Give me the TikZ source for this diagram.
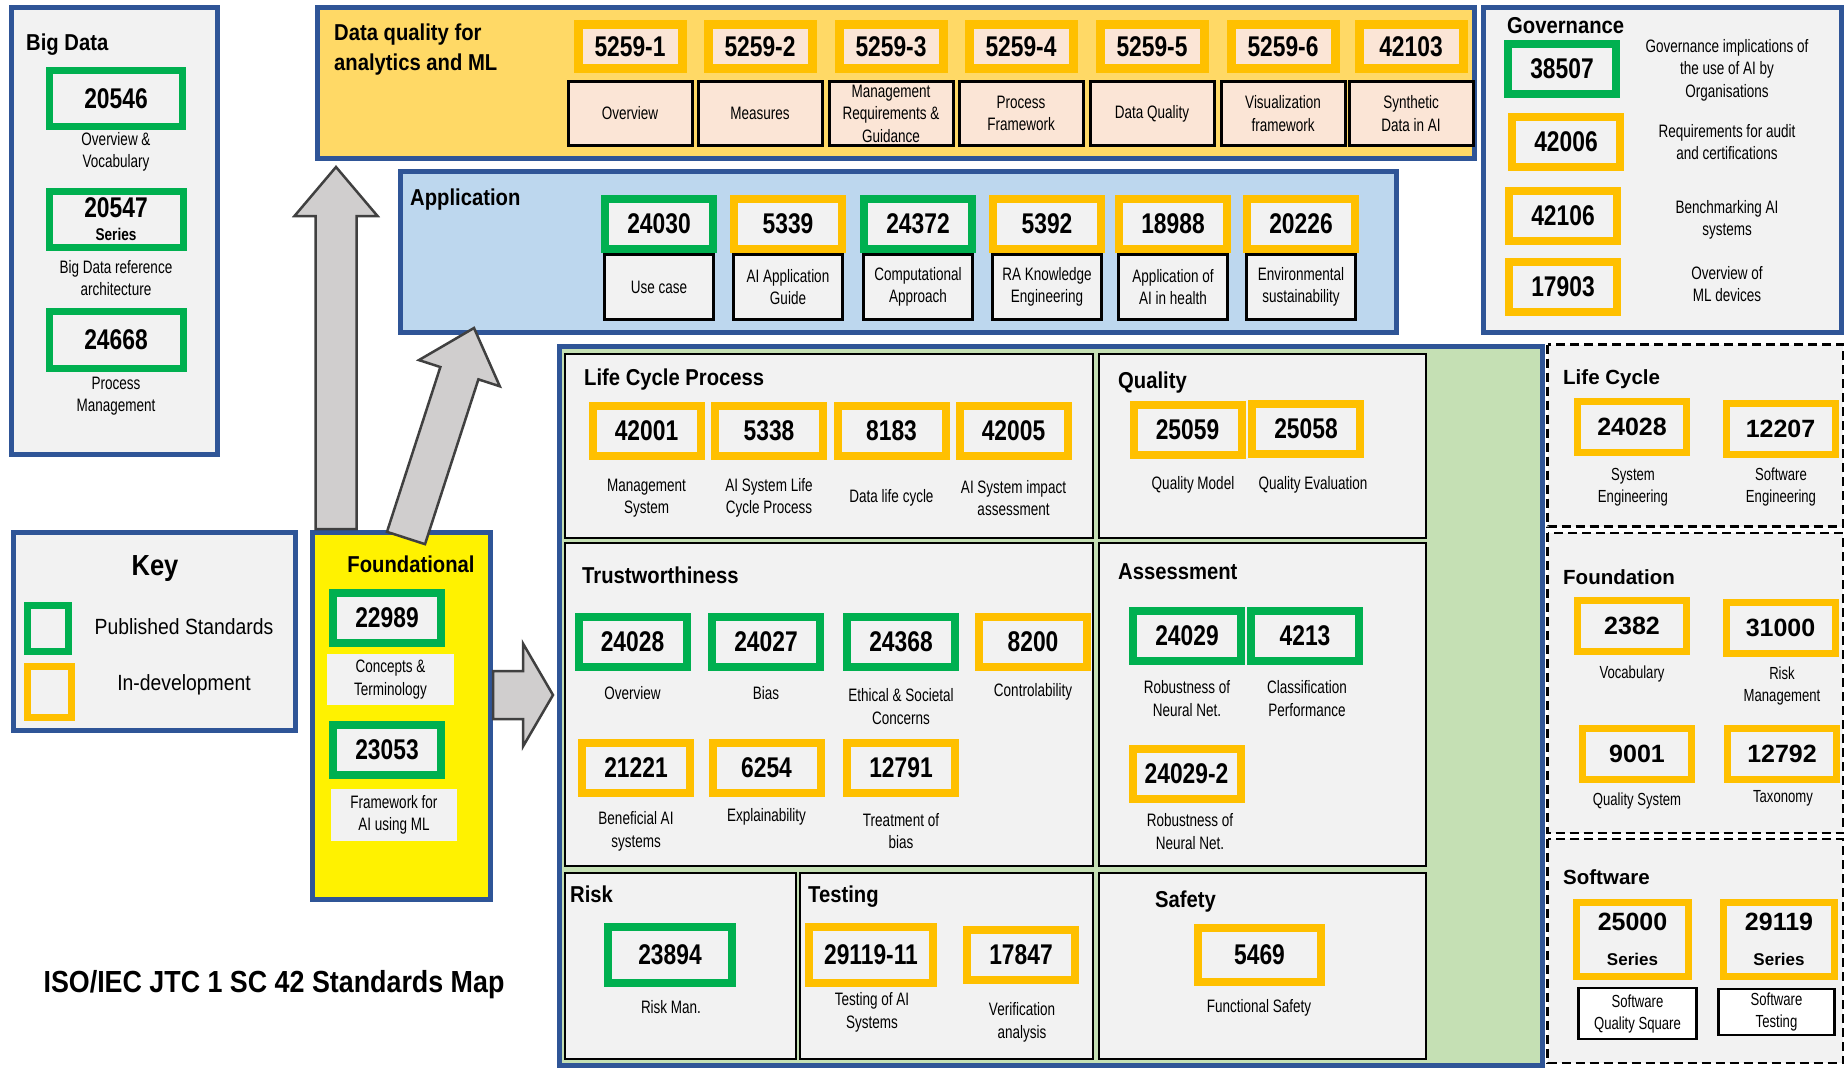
\documentclass[tikz,border=0pt]{standalone}
\usepackage{fontspec}
\setmainfont{Liberation Sans}
\newfontfamily\narrowfont[FakeStretch=0.8]{Liberation Sans}
\newfontfamily\thinfont[FakeStretch=0.75]{Liberation Sans}
\newfontfamily\titlefont[FakeStretch=0.88]{Liberation Sans}
\usetikzlibrary{calc}
\definecolor{frameblue}{RGB}{47,85,151}
\definecolor{pubgreen}{RGB}{0,176,80}
\definecolor{devorange}{RGB}{255,192,0}
\definecolor{dqfill}{RGB}{255,217,102}
\definecolor{peach}{RGB}{251,229,214}
\definecolor{appfill}{RGB}{189,215,238}
\definecolor{maingreen}{RGB}{197,224,180}
\definecolor{panegray}{RGB}{242,242,242}
\definecolor{arrowfill}{RGB}{208,206,206}
\definecolor{arrowedge}{RGB}{64,64,64}
\newcommand{\numfont}{\narrowfont\bfseries\fontsize{28.5}{23}\selectfont}
\newcommand{\sersize}{\narrowfont\bfseries\fontsize{17}{23}\selectfont}
\newcommand{\lblfont}{\thinfont\fontsize{18}{22.5}\selectfont}
\newcommand{\hdfont}{\titlefont\bfseries\fontsize{23}{30}\selectfont}
\newcommand{\keyfont}{\titlefont\fontsize{22}{26}\selectfont}
\newcommand{\rnumfont}{\bfseries\fontsize{25}{35}\selectfont}
\newcommand{\rsersize}{\bfseries\fontsize{17}{35}\selectfont}
\newcommand{\rhdfont}{\bfseries\fontsize{20.5}{24}\selectfont}
\newcommand{\rlblfont}{\thinfont\fontsize{17.5}{22}\selectfont}
% block arrow: tail, tip, half shaft, half head, head length
\newcommand{\blockarrow}[5]{%
  \coordinate (#1-base) at ($(#2)!#5!(#1)$);
  \draw[arrowbody] ($(#1)!#3!90:(#2)$) -- ($(#1-base)!#3!-90:(#1)$)
    -- ($(#1-base)!#4!-90:(#1)$) -- (#2) -- ($(#1-base)!#4!90:(#1)$)
    -- ($(#1-base)!#3!90:(#1)$) -- ($(#1)!#3!-90:(#2)$) -- cycle;}

\begin{document}
\begin{tikzpicture}[x=1pt, y=-1pt,
    bluebox/.style={draw=frameblue, line width=5pt},
    pane/.style={draw=black, line width=2.5pt, fill=panegray},
    dashpane/.style={draw=black, line width=2.5pt, dash pattern=on 9pt off 5pt, fill=panegray},
    stdbox/.style={line width=8pt, inner sep=0pt, font=\numfont, fill=panegray,
      minimum width=108pt, minimum height=50pt},
    pub/.style={stdbox, draw=pubgreen},
    dev/.style={stdbox, draw=devorange},
    rbox/.style={dev, line width=7pt, font=\rnumfont, minimum width=109pt, minimum height=51pt},
    subbox/.style={draw=black, line width=3pt, inner sep=0pt, align=center, font=\lblfont},
    lbl/.style={font=\lblfont, align=center, inner sep=0pt},
    rlbl/.style={lbl, font=\rlblfont},
    hd/.style={font=\hdfont, anchor=base west, inner sep=0pt},
    rhd/.style={font=\rhdfont, anchor=base west, inner sep=0pt},
    arrowbody/.style={draw=arrowedge, fill=arrowfill, line width=2.5pt, line join=miter}]
  \useasboundingbox (0,0) rectangle (1845,1068);

  % Big Data
  \draw[bluebox, fill=panegray] (11.5,7.5) rectangle (217.5,454.5);
  \node[hd] (bdTitle) at (26,50) {Big Data};
  \node[pub, line width=7pt, minimum width=133pt, minimum height=56pt] (bd1) at (116,98.5) {20546};
  \node[lbl] (bd1L) at (116,152) {Overview \&\\Vocabulary};
  \node[pub, line width=7pt, minimum width=134pt, minimum height=56pt, align=center] (bd2) at (116,219.5) {20547\\\sersize Series};
  \node[lbl] (bd2L) at (116,278) {Big Data reference\\architecture};
  \node[pub, line width=7pt, minimum width=134pt, minimum height=57pt] (bd3) at (116,340) {24668};
  \node[lbl] (bd3L) at (116,396) {Process\\Management};

  % Data quality
  \draw[bluebox, fill=dqfill] (317.5,7.5) rectangle (1474.5,158.5);
  \node[hd, anchor=west, align=left] (dqTitle) at (334,50) {Data quality for\\analytics and ML};
  \foreach \x/\num/\txt [count=\i] in {630/5259-1/Overview, 760/5259-2/Measures,
      891/5259-3/{Management\\Requirements \&\\Guidance}, 1021/5259-4/{Process\\Framework},
      1152/5259-5/Data Quality, 1283/5259-6/{Visualization\\framework}, 1411/42103/{Synthetic\\Data in AI}} {
    \node[dev, fill=peach, line width=9pt, minimum width=104pt, minimum height=44pt] (dq\i) at (\x,46.5) {\num};
    \node[subbox, fill=peach, minimum width=124pt, minimum height=64pt] (dqL\i) at (\x,113.5) {\txt};
  }

  % Application
  \draw[bluebox, fill=appfill] (400.5,171.5) rectangle (1396.5,332.5);
  \node[hd] (appTitle) at (410,205) {Application};
  \foreach \x/\num/\col/\txt [count=\i] in {659/24030/pubgreen/Use case,
      788/5339/devorange/{AI Application\\Guide}, 918/24372/pubgreen/{Computational\\Approach},
      1047/5392/devorange/{RA Knowledge\\Engineering}, 1173/18988/devorange/{Application of\\AI in health},
      1301/20226/devorange/{Environmental\\sustainability}} {
    \node[stdbox, draw=\col] (app\i) at (\x,224) {\num};
    \node[subbox, fill=panegray, minimum width=109pt, minimum height=65pt] (appL\i) at (\x,287) {\txt};
  }

  % Governance
  \draw[bluebox, fill=panegray] (1483.5,7.5) rectangle (1841.5,332.5);
  \node[hd] (govTitle) at (1507,33) {Governance};
  \foreach \x/\y/\num/\col/\txt/\ly [count=\i] in {
      1562/69/38507/pubgreen/{Governance implications of\\the use of AI by\\Organisations}/70,
      1566/142/42006/devorange/{Requirements for audit\\and certifications}/142,
      1563/216/42106/devorange/{Benchmarking AI\\systems}/220,
      1563/287/17903/devorange/{Overview of\\ML devices}/284} {
    \node[stdbox, draw=\col] (gov\i) at (\x,\y) {\num};
    \node[lbl] (govL\i) at (1727,\ly) {\txt};
  }

  % Key
  \draw[bluebox, fill=panegray] (13.5,532.5) rectangle (295.5,730.5);
  \node[hd, font=\titlefont\bfseries\fontsize{29}{30}\selectfont, anchor=base] (keyTitle) at (155,575) {Key};
  \node[pub, line width=7pt, minimum width=41pt, minimum height=46pt] (keyPub) at (48,628.5) {};
  \node[dev, line width=7pt, minimum width=44pt, minimum height=51pt] (keyDev) at (49.5,692) {};
  \node[font=\keyfont, inner sep=0pt] (keyPubL) at (184,627) {Published Standards};
  \node[font=\keyfont, inner sep=0pt] (keyDevL) at (184,685) {In-development};

  % Foundational
  \draw[bluebox, fill=yellow] (312.5,532.5) rectangle (490.5,899.5);
  \node[hd, anchor=base] (fdTitle) at (411,572) {Foundational};
  \node[pub] (fd1) at (387,618) {22989};
  \node[lbl, fill=panegray, minimum width=127pt, minimum height=51pt] (fd1L) at (390.5,679.5) {Concepts \&\\Terminology};
  \node[pub] (fd2) at (387,750) {23053};
  \node[lbl, fill=panegray, minimum width=126pt, minimum height=52pt] (fd2L) at (394,815) {Framework for\\AI using ML};

  % Title
  \node[font=\titlefont\bfseries\fontsize{30.5}{32}\selectfont, anchor=base, inner sep=0pt] (mapTitle) at (274,992) {ISO/IEC JTC 1 SC 42 Standards Map};

  % Main block
  \draw[bluebox, fill=maingreen] (559,346.5) rectangle (1542.5,1065.5);
  \draw[pane] (565,354) rectangle (1093,538);
  \draw[pane] (1099,354) rectangle (1426,538);
  \draw[pane] (565,543) rectangle (1093,866);
  \draw[pane] (1099,543) rectangle (1426,866);
  \draw[pane] (565,873) rectangle (796,1059);
  \draw[pane] (800,873) rectangle (1093,1059);
  \draw[pane] (1099,873) rectangle (1426,1059);

  % Life Cycle Process
  \node[hd] (lcpTitle) at (584,385) {Life Cycle Process};
  \foreach \x/\num/\txt [count=\i] in {646.5/42001/{Management\\System}, 769/5338/{AI System Life\\Cycle Process},
      891.5/8183/Data life cycle, 1013.5/42005/{AI System impact\\assessment}} {
    \node[dev] (lcp\i) at (\x,431) {\num};
    \node[lbl] (lcpL\i) at (\x,498) {\txt};
  }

  % Quality
  \node[hd] (qTitle) at (1118,388) {Quality};
  \node[dev] (q1) at (1187.5,429.5) {25059};
  \node[lbl] (q1L) at (1193,485) {Quality Model};
  \node[dev] (q2) at (1306,429) {25058};
  \node[lbl] (q2L) at (1313,485) {Quality Evaluation};

  % Trustworthiness
  \node[hd] (trTitle) at (582,583) {Trustworthiness};
  \foreach \x/\y/\num/\col/\txt/\ly [count=\i] in {
      632.5/641.5/24028/pubgreen/Overview/693, 766/641.5/24027/pubgreen/Bias/693,
      901/641.5/24368/pubgreen/{Ethical \& Societal\\Concerns}/706.5, 1033/641.5/8200/devorange/Controlability/692,
      636/767.5/21221/devorange/{Beneficial AI\\systems}/831.5, 766.5/767.5/6254/devorange/Explainability/817,
      901/767.5/12791/devorange/{Treatment of\\bias}/831} {
    \node[stdbox, draw=\col] (tr\i) at (\x,\y) {\num};
    \node[lbl] (trL\i) at (\x,\ly) {\txt};
  }

  % Assessment
  \node[hd] (asTitle) at (1118,579) {Assessment};
  \node[pub] (as1) at (1187,636) {24029};
  \node[lbl] (as1L) at (1187,698.5) {Robustness of\\Neural Net.};
  \node[pub] (as2) at (1305,636) {4213};
  \node[lbl] (as2L) at (1307,698.5) {Classification\\Performance};
  \node[dev] (as3) at (1186.5,774) {24029-2};
  \node[lbl] (as3L) at (1190,831.5) {Robustness of\\Neural Net.};

  % Risk, Testing, Safety
  \node[hd] (rkTitle) at (570,902) {Risk};
  \node[pub, minimum width=124pt, minimum height=56pt] (rk1) at (670,955) {23894};
  \node[lbl] (rk1L) at (671,1007) {Risk Man.};
  \node[hd] (tsTitle) at (808,902) {Testing};
  \node[dev, minimum width=124pt, minimum height=56pt] (ts1) at (871,955) {29119-11};
  \node[lbl] (ts1L) at (872,1012.5) {Testing of AI\\Systems};
  \node[dev] (ts2) at (1021,955) {17847};
  \node[lbl] (ts2L) at (1022,1022.5) {Verification\\analysis};
  \node[hd] (sfTitle) at (1155,907) {Safety};
  \node[dev, minimum width=123pt, minimum height=54pt] (sf1) at (1259.5,955) {5469};
  \node[lbl] (sf1L) at (1259,1008) {Functional Safety};

  % Right side groups
  \draw[dashpane] (1547.5,344.5) rectangle (1843,526.5);
  \draw[dashpane] (1547.5,533) rectangle (1843,833);
  \draw[dashpane] (1547.5,839) rectangle (1843,1063);
  \node[rhd] (rlcTitle) at (1563,384) {Life Cycle};
  \node[rbox] (rlc1) at (1632,427) {24028};
  \node[rlbl] (rlc1L) at (1633,487) {System\\Engineering};
  \node[rbox] (rlc2) at (1780.5,428.5) {12207};
  \node[rlbl] (rlc2L) at (1781,487) {Software\\Engineering};
  \node[rhd] (rfdTitle) at (1563,584) {Foundation};
  \node[rbox] (rfd1) at (1632,626) {2382};
  \node[rlbl] (rfd1L) at (1632,673.5) {Vocabulary};
  \node[rbox] (rfd2) at (1780.5,628) {31000};
  \node[rlbl] (rfd2L) at (1782,686) {Risk\\Management};
  \node[rbox] (rfd3) at (1637,754) {9001};
  \node[rlbl] (rfd3L) at (1637,800.5) {Quality System};
  \node[rbox] (rfd4) at (1782,753.5) {12792};
  \node[rlbl] (rfd4L) at (1783,798) {Taxonomy};
  \node[rhd] (rswTitle) at (1563,884) {Software};
  \node[rbox, minimum width=112pt, minimum height=74pt, align=center] (rsw1) at (1632.5,939.5) {25000\\\rsersize Series};
  \node[rbox, minimum width=111pt, minimum height=74pt, align=center] (rsw2) at (1779,939.5) {29119\\\rsersize Series};
  \node[subbox, font=\rlblfont, fill=white, line width=2.5pt, minimum width=118pt, minimum height=51pt] (rsw1L) at (1637.5,1013.5) {Software\\Quality Square};
  \node[subbox, font=\rlblfont, fill=white, line width=2.5pt, minimum width=116pt, minimum height=46pt] (rsw2L) at (1776.5,1012) {Software\\Testing};

  % Block arrows from Foundational
  \coordinate (upTail) at (336,529);
  \coordinate (upTip) at (336,167);
  \blockarrow{upTail}{upTip}{20.5pt}{41.5pt}{49pt}
  \coordinate (diagTail) at (406,538);
  \coordinate (diagTip) at (474,328);
  \blockarrow{diagTail}{diagTip}{20pt}{42.5pt}{47.5pt}
  \coordinate (rightTail) at (493,695);
  \coordinate (rightTip) at (553,695);
  \blockarrow{rightTail}{rightTip}{24pt}{51.5pt}{30pt}
\end{tikzpicture}
\end{document}
